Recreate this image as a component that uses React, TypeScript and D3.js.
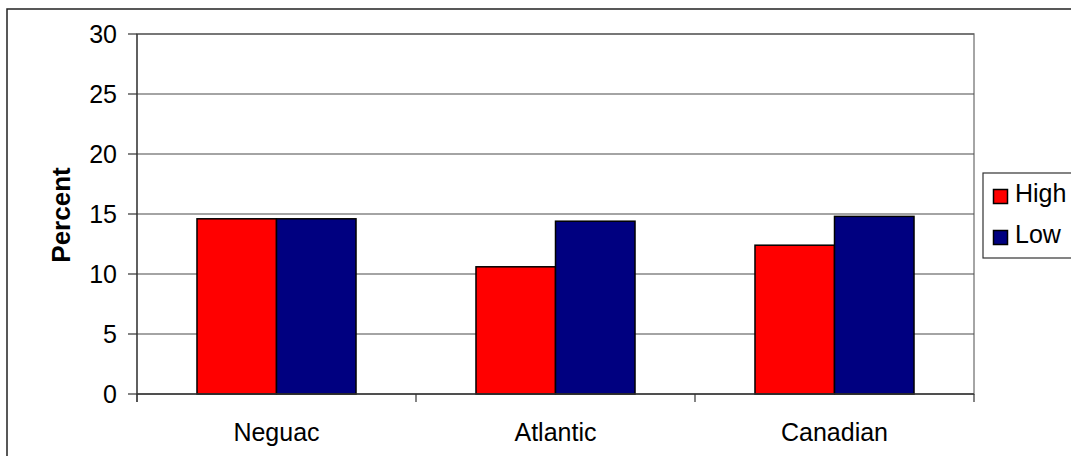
import React from "react";
import * as d3 from "d3";

const categories = ["Neguac", "Atlantic", "Canadian"];
const seriesNames = ["High", "Low"];
const highValues = [14.6, 10.6, 12.4];
const lowValues = [14.6, 14.4, 14.8];
const seriesColors = ["#FF0000", "#000080"];
const yTicks = [0, 5, 10, 15, 20, 25, 30];

const W = 1071;
const H = 456;
const plot = { left: 137, right: 974, top: 34, bottom: 394 };
const font = "Arial, 'Liberation Sans', sans-serif";

export default function App() {
  const x0 = d3.scaleBand<string>().domain(categories).range([plot.left, plot.right]).padding(0);
  const bw = x0.bandwidth();
  const x1 = d3.scaleBand<string>().domain(seriesNames).range([bw * 0.215, bw * 0.785]).padding(0);
  const y = d3.scaleLinear().domain([0, 30]).range([plot.bottom, plot.top]);
  const values = [highValues, lowValues];
  const boundaries = [...categories.map((c) => x0(c) as number), plot.right];

  return (
    <div style={{ position: "absolute", left: 0, top: 0 }}>
      <svg width={W} height={H} style={{ display: "block", background: "#fff" }}>
        <rect x={7} y={9} width={1200} height={800} fill="#fff" stroke="#222" strokeWidth={1.5} />
        {/* plot area border */}
        <rect x={plot.left} y={plot.top} width={plot.right - plot.left} height={plot.bottom - plot.top} fill="#fff" stroke="#888" strokeWidth={1.5} />
        {/* gridlines */}
        {yTicks.filter((t) => t > 0).map((t) => (
          <line key={t} x1={plot.left} x2={plot.right} y1={y(t)} y2={y(t)} stroke="#4a4a4a" strokeWidth={1.2} />
        ))}
        {/* bars */}
        {categories.map((c, i) =>
          seriesNames.map((s, j) => (
            <rect
              key={c + s}
              x={(x0(c) as number) + (x1(s) as number)}
              y={y(values[j][i])}
              width={x1.bandwidth()}
              height={y(0) - y(values[j][i])}
              fill={seriesColors[j]}
              stroke="#000"
              strokeWidth={1.5}
            />
          ))
        )}
        {/* y axis */}
        <line x1={plot.left} x2={plot.left} y1={plot.top} y2={plot.bottom + 8} stroke="#333" strokeWidth={1.2} />
        {yTicks.map((t) => (
          <g key={t}>
            <line x1={plot.left - 9} x2={plot.left} y1={y(t)} y2={y(t)} stroke="#333" strokeWidth={1.2} />
            <text x={plot.left - 20} y={y(t)} dy="0.36em" textAnchor="end" fontFamily={font} fontSize={25} fill="#000">
              {t}
            </text>
          </g>
        ))}
        {/* x axis */}
        <line x1={plot.left} x2={plot.right} y1={plot.bottom} y2={plot.bottom} stroke="#333" strokeWidth={1.5} />
        {boundaries.map((b, i) => (
          <line key={i} x1={b} x2={b} y1={plot.bottom} y2={plot.bottom + 8} stroke="#333" strokeWidth={1.2} />
        ))}
        {categories.map((c) => (
          <text key={c} x={(x0(c) as number) + bw / 2} y={441} textAnchor="middle" fontFamily={font} fontSize={25} fill="#000">
            {c}
          </text>
        ))}
        <text
          transform={`translate(70, ${(plot.top + plot.bottom) / 2 + 1}) rotate(-90)`}
          textAnchor="middle"
          fontFamily={font}
          fontSize={26}
          fontWeight="bold"
          fill="#000"
        >
          Percent
        </text>
        {/* legend */}
        <rect x={983} y={173} width={200} height={85} fill="#fff" stroke="#333" strokeWidth={1.2} />
        {seriesNames.map((s, j) => (
          <g key={s}>
            <rect x={993.5} y={189.5 + j * 41} width={14} height={14} fill={seriesColors[j]} stroke="#000" strokeWidth={1.5} />
            <text x={1015} y={202 + j * 41} fontFamily={font} fontSize={25} fill="#000">
              {s}
            </text>
          </g>
        ))}
      </svg>
    </div>
  );
}
